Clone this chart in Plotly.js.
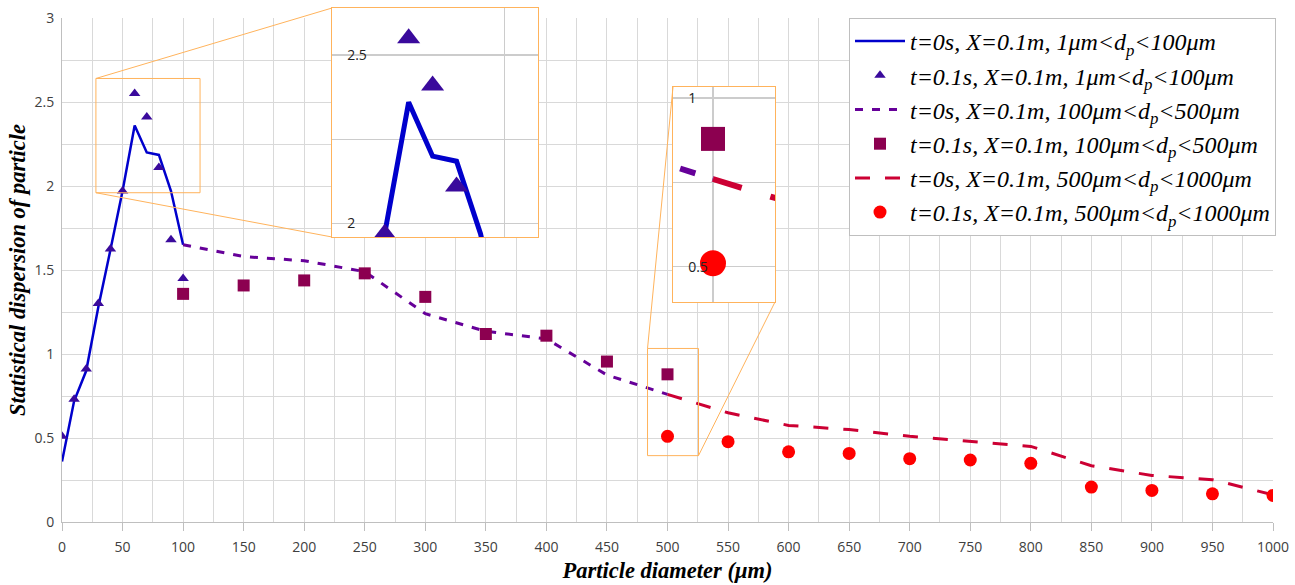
<!DOCTYPE html>
<html>
<head>
<meta charset="utf-8">
<script src="https://cdn.plot.ly/plotly-3.0.1.min.js"></script>
<style>html,body{margin:0;padding:0;background:#fff;}#chart{width:1295px;height:585px;}</style>
</head>
<body>
<div id="chart"></div>
<script>
// ---- data ----
var xSmall = [0, 10, 20, 30, 40, 50, 60, 70, 80, 90, 100];
var ySmallT0 = [0.36, 0.72, 0.90, 1.28, 1.62, 1.97, 2.36, 2.20, 2.185, 1.97, 1.65];
var ySmallT01 = [0.51, 0.73, 0.91, 1.30, 1.625, 1.97, 2.55, 2.41, 2.11, 1.68, 1.45];

var xMid = [100, 150, 200, 250, 300, 350, 400, 450, 500];
var yMidT0 = [1.65, 1.58, 1.555, 1.49, 1.24, 1.135, 1.09, 0.875, 0.76];
var yMidT01 = [1.358, 1.408, 1.438, 1.48, 1.34, 1.119, 1.109, 0.955, 0.879];

var xLarge = [500, 550, 600, 650, 700, 750, 800, 850, 900, 950, 1000];
var yLargeT0 = [0.76, 0.65, 0.575, 0.55, 0.51, 0.48, 0.45, 0.335, 0.277, 0.252, 0.162];
var yLargeT01 = [0.51, 0.478, 0.418, 0.408, 0.377, 0.369, 0.349, 0.208, 0.188, 0.168, 0.158];

var seriesNames = [
  't=0s, X=0.1m, 1μm&lt;d<sub>p</sub>&lt;100μm',
  't=0.1s, X=0.1m, 1μm&lt;d<sub>p</sub>&lt;100μm',
  't=0s, X=0.1m, 100μm&lt;d<sub>p</sub>&lt;500μm',
  't=0.1s, X=0.1m, 100μm&lt;d<sub>p</sub>&lt;500μm',
  't=0s, X=0.1m, 500μm&lt;d<sub>p</sub>&lt;1000μm',
  't=0.1s, X=0.1m, 500μm&lt;d<sub>p</sub>&lt;1000μm'
];

// zoomed regions (data ranges shown in the insets)
var zoom1X = [28, 114], zoom1Y = [1.96, 2.64];
var zoom2X = [483.5, 525.6], zoom2Y = [0.395, 1.033];

// ---- styling ----
var C = {
  blue: '#0000CC', tri: '#3A0A9C', purple: '#660099', sq: '#8C0050',
  red: '#CC0033', circ: '#FF0000', orange: '#FFB35C', grid: '#D9D9D9'
};
var mainXRange = [0, 1000], mainYRange = [0, 3];
var mainYDomTop = 504 / 514;
var inset1Dom = {x: [270 / 1211, 476 / 1211], y: [285 / 514, 1]};
var inset2Dom = {x: [611 / 1211, 713 / 1211], y: [220 / 514, 435 / 514]};

function makeSet(xa, ya, scale, show) {
  return [
    {x: xSmall, y: ySmallT0, name: seriesNames[0], mode: 'lines', xaxis: xa, yaxis: ya, showlegend: show, legendgroup: 'g0',
     line: {color: C.blue, width: 2.5 * scale}},
    {x: xSmall, y: ySmallT01, name: seriesNames[1], mode: 'markers', xaxis: xa, yaxis: ya, showlegend: show, legendgroup: 'g1',
     marker: {symbol: 'triangle-up', color: C.tri, size: 10 * scale}},
    {x: xMid, y: yMidT0, name: seriesNames[2], mode: 'lines', xaxis: xa, yaxis: ya, showlegend: show, legendgroup: 'g2',
     line: {color: C.purple, width: 3 * scale, dash: (8 * scale) + 'px,' + (9 * scale) + 'px'}},
    {x: xMid, y: yMidT01, name: seriesNames[3], mode: 'markers', xaxis: xa, yaxis: ya, showlegend: show, legendgroup: 'g3',
     marker: {symbol: 'square', color: C.sq, size: 12 * scale}},
    {x: xLarge, y: yLargeT0, name: seriesNames[4], mode: 'lines', xaxis: xa, yaxis: ya, showlegend: show, legendgroup: 'g4',
     line: {color: C.red, width: 3 * scale, dash: (15 * scale) + 'px,' + (15 * scale) + 'px'}},
    {x: xLarge, y: yLargeT01, name: seriesNames[5], mode: 'markers', xaxis: xa, yaxis: ya, showlegend: show, legendgroup: 'g5',
     marker: {symbol: 'circle', color: C.circ, size: 13 * scale}}
  ];
}

var traces = makeSet('x', 'y', 1, true)
  .concat(makeSet('x2', 'y2', 2, false))
  .concat(makeSet('x3', 'y3', 2, false));

var serif = 'Liberation Serif, Times New Roman, serif';
var tickFont = {family: 'Open Sans, sans-serif', size: 14, color: '#404040'};

function insetX(dom, range, dtick, anchor) {
  return {domain: dom, range: range, dtick: dtick, tick0: 0, showticklabels: false, ticks: '', anchor: anchor,
    showgrid: true, gridcolor: '#CCCCCC', gridwidth: 1.5, zeroline: false,
    showline: true, mirror: true, linecolor: C.orange, linewidth: 1, fixedrange: true};
}
function insetY(dom, range, anchor) {
  return {domain: dom, range: range, dtick: 0.5, tick0: 0, anchor: anchor,
    minor: {dtick: 0.25, showgrid: true, gridcolor: '#CCCCCC', gridwidth: 1.5, ticks: ''},
    ticklabelposition: 'inside', ticklabelstandoff: 15, ticks: '',
    tickfont: {family: 'Open Sans, sans-serif', size: 14, color: '#222'},
    showgrid: true, gridcolor: '#CCCCCC', gridwidth: 1.5, zeroline: false,
    showline: true, mirror: true, linecolor: C.orange, linewidth: 1, fixedrange: true};
}

// data coords of the main axes -> paper fractions
function fx(x) { return (x - mainXRange[0]) / (mainXRange[1] - mainXRange[0]); }
function fy(y) { return (y - mainYRange[0]) / (mainYRange[1] - mainYRange[0]) * mainYDomTop; }
function seg(x0, y0, x1, y1) {
  return {type: 'line', xref: 'paper', yref: 'paper', x0: x0, y0: y0, x1: x1, y1: y1,
    line: {color: C.orange, width: 1}};
}

var shapes = [
  {type: 'rect', xref: 'paper', yref: 'paper', x0: fx(zoom1X[0]), x1: fx(zoom1X[1]), y0: fy(zoom1Y[0]), y1: fy(zoom1Y[1]),
   line: {color: C.orange, width: 1}},
  {type: 'rect', xref: 'paper', yref: 'paper', x0: fx(zoom2X[0]), x1: fx(zoom2X[1]), y0: fy(zoom2Y[0]), y1: fy(zoom2Y[1]),
   line: {color: C.orange, width: 1}},
  seg(fx(zoom1X[0]), fy(zoom1Y[1]), inset1Dom.x[0], inset1Dom.y[1]),
  seg(fx(zoom1X[0]), fy(zoom1Y[0]), inset1Dom.x[0], inset1Dom.y[0]),
  seg(fx(zoom2X[0]), fy(zoom2Y[1]), inset2Dom.x[0], inset2Dom.y[1]),
  seg(fx(zoom2X[1]), fy(zoom2Y[0]), inset2Dom.x[1], inset2Dom.y[0])
];

var layout = {
  width: 1295, height: 585,
  margin: {l: 62, r: 22, t: 8, b: 63},
  paper_bgcolor: '#fff', plot_bgcolor: '#fff',
  showlegend: true,
  xaxis: {
    domain: [0, 1], range: mainXRange, dtick: 50, tick0: 0,
    ticks: 'outside', ticklen: 8, tickcolor: '#BFBFBF', tickwidth: 1,
    showgrid: true, gridcolor: C.grid, gridwidth: 1,
    minor: {dtick: 25, showgrid: true, gridcolor: C.grid, gridwidth: 1, ticks: ''},
    zeroline: false, showline: true, linecolor: '#BFBFBF', linewidth: 1,
    tickfont: tickFont, ticklabelstandoff: 4,
    title: {text: '<b><i>Particle diameter (μm)</i></b>', font: {family: serif, size: 22.5, color: '#000'}, standoff: 7},
    fixedrange: true
  },
  yaxis: {
    domain: [0, mainYDomTop], range: mainYRange, dtick: 0.5, tick0: 0,
    ticks: '', showgrid: true, gridcolor: C.grid, gridwidth: 1,
    minor: {dtick: 0.25, showgrid: true, gridcolor: C.grid, gridwidth: 1, ticks: ''},
    zeroline: false, showline: true, linecolor: '#BFBFBF', linewidth: 1,
    tickfont: tickFont, ticklabelstandoff: 4,
    title: {text: '<b><i>Statistical dispersion of particle</i></b>', font: {family: serif, size: 22.5, color: '#000'}, standoff: 2},
    fixedrange: true
  },
  xaxis2: insetX(inset1Dom.x, zoom1X, 100, 'y2'),
  yaxis2: insetY(inset1Dom.y, zoom1Y, 'x2'),
  xaxis3: insetX(inset2Dom.x, zoom2X, 100, 'y3'),
  yaxis3: insetY(inset2Dom.y, zoom2Y, 'x3'),
  legend: {
    x: 787 / 1211, y: 504 / 514, xanchor: 'left', yanchor: 'top',
    bgcolor: '#fff', bordercolor: '#BFBFBF', borderwidth: 1,
    font: {family: serif, size: 24, color: '#000', style: 'italic'},
    itemwidth: 50, tracegroupgap: 3, traceorder: 'normal'
  },
  shapes: shapes
};

Plotly.newPlot('chart', traces, layout, {displayModeBar: false, staticPlot: true});
</script>
</body>
</html>
